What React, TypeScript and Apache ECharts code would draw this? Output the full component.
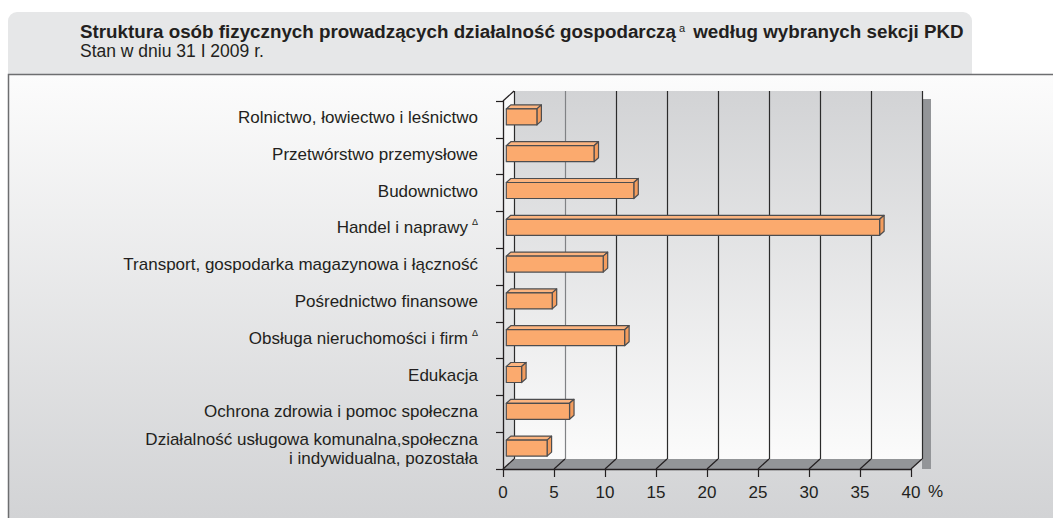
import React, { useEffect, useRef } from "react";
import * as echarts from "echarts";

const categories = [
  "Rolnictwo, łowiectwo i leśnictwo",
  "Przetwórstwo przemysłowe",
  "Budownictwo",
  "Handel i naprawy{sup|Δ}",
  "Transport, gospodarka magazynowa i łączność",
  "Pośrednictwo finansowe",
  "Obsługa nieruchomości i firm{sup|Δ}",
  "Edukacja",
  "Ochrona zdrowia i pomoc społeczna",
  "Działalność usługowa komunalna,społeczna\ni indywidualna, pozostała",
];
const values = [3.0, 8.6, 12.5, 36.6, 9.5, 4.5, 11.6, 1.5, 6.2, 4.0];
const xTicks = [0, 5, 10, 15, 20, 25, 30, 35, 40];

const FONT = "'Liberation Sans', Arial, sans-serif";
const TXT = "#231f20";

export default function App() {
  const ref = useRef<HTMLDivElement>(null);
  useEffect(() => {
    if (!ref.current) return;
    const chart = echarts.init(ref.current, undefined, { renderer: "svg" });
    const DX = 11;
    const DY = -10;
    const option: any = {
      animation: false,
      backgroundColor: "#ffffff",
      textStyle: { fontFamily: FONT },
      graphic: [
        {
          type: "rect",
          z: -10,
          shape: { x: 8, y: 12, width: 964, height: 64, r: [9, 9, 0, 0] },
          style: { fill: "#e6e7e8" },
        },
        {
          type: "rect",
          z: -9,
          shape: { x: 8, y: 74, width: 1045, height: 444 },
          style: {
            fill: new echarts.graphic.LinearGradient(0, 0, 0, 1, [
              { offset: 0, color: "#fcfcfc" },
              { offset: 1, color: "#d2d3d5" },
            ]),
          },
        },
        {
          type: "polyline",
          z: -8,
          shape: { points: [[8.5, 518], [8.5, 74.5], [1053, 74.5]] },
          style: { stroke: "#6d6e70", lineWidth: 1.5, fill: null },
        },
        {
          type: "rect",
          z: -7,
          shape: { x: 922, y: 99, width: 9, height: 370 },
          style: { fill: "#939598" },
        },
        {
          type: "text",
          left: 80,
          top: 22,
          z: 5,
          style: {
            text: "Struktura osób fizycznych prowadzących działalność gospodarczą{sup|a} według wybranych sekcji PKD",
            font: `bold 18.8px ${FONT}`,
            lineHeight: 19,
            fill: TXT,
            rich: {
              sup: { fontSize: 11, lineHeight: 11, fontWeight: "normal", verticalAlign: "top", padding: [0, 3, 0, 3], fill: TXT },
            },
          },
        },
        {
          type: "text",
          left: 80,
          top: 42,
          z: 5,
          style: { text: "Stan w dniu 31 I 2009 r.", font: `17.5px ${FONT}`, lineHeight: 18, fill: TXT },
        },
        {
          type: "text",
          left: 928,
          top: 483,
          z: 5,
          style: { text: "%", font: `17px ${FONT}`, fill: TXT },
        },
      ],
      grid: [
        { left: 503, top: 101, width: 408, height: 368, show: false },
        {
          left: 514,
          top: 91,
          width: 408,
          height: 368,
          show: true,
          borderWidth: 0,
          z: -5,
          backgroundColor: new echarts.graphic.LinearGradient(0, 0, 0, 1, [
            { offset: 0, color: "#d2d3d5" },
            { offset: 1, color: "#fbfbfb" },
          ]),
        },
      ],
      xAxis: [
        {
          gridIndex: 0,
          type: "value",
          min: 0,
          max: 40,
          interval: 5,
          z: 10,
          axisLine: { show: true, lineStyle: { color: "#231f20", width: 1.3 } },
          axisTick: { show: true, length: 8, lineStyle: { color: "#231f20", width: 1.2 } },
          axisLabel: { color: TXT, fontSize: 17, fontFamily: FONT, margin: 15 },
          splitLine: { show: false },
        },
        {
          gridIndex: 1,
          type: "value",
          min: 0,
          max: 40,
          interval: 5,
          axisLine: { show: false },
          axisTick: { show: false },
          axisLabel: { show: false },
          splitLine: {
            show: true,
            lineStyle: {
              width: 1.2,
              color: ["#2b2b2b", "#808285", "#2b2b2b", "#2b2b2b", "#2b2b2b", "#2b2b2b", "#2b2b2b", "#2b2b2b", "#2b2b2b"],
            },
          },
        },
      ],
      yAxis: [
        {
          gridIndex: 0,
          type: "category",
          data: categories,
          inverse: true,
          z: 10,
          axisLine: { show: true, lineStyle: { color: "#231f20", width: 1.3 } },
          axisTick: { show: true, length: 7, lineStyle: { color: "#231f20", width: 1.2 } },
          axisLabel: {
            color: TXT,
            fontSize: 17,
            fontFamily: FONT,
            margin: 25,
            lineHeight: 19,
            align: "right",
            padding: [0, 0, 4, 0],
            rich: {
              sup: { fontSize: 9, padding: [0, 0, 11, 4], color: TXT },
            },
          },
          splitLine: { show: false },
        },
        {
          gridIndex: 1,
          type: "value",
          min: 0,
          max: 1,
          show: false,
          splitLine: { show: false },
        },
      ],
      series: [
        {
          type: "custom",
          xAxisIndex: 0,
          yAxisIndex: 0,
          z: 1,
          clip: false,
          silent: true,
          data: [[0, 0]],
          renderItem: (params: any, api: any) => {
            const cs = params.coordSys;
            const bottom = cs.y + cs.height;
            const xa = api.coord([0, 0])[0];
            const xb = api.coord([40, 0])[0];
            return {
              type: "group",
              children: [
                {
                  type: "polygon",
                  shape: { points: [[xa, bottom], [xb, bottom], [xb + DX, bottom + DY], [xa + DX, bottom + DY]] },
                  style: { fill: "#939598", stroke: null },
                },
                {
                  type: "line",
                  shape: { x1: xa, y1: cs.y, x2: xa + DX, y2: cs.y + DY },
                  style: { stroke: "#231f20", lineWidth: 1.2 },
                },
              ],
            };
          },
        },
        {
          type: "custom",
          xAxisIndex: 0,
          yAxisIndex: 0,
          z: 2,
          clip: false,
          silent: true,
          data: xTicks.map((t) => [t, 0]),
          encode: { x: 0 },
          renderItem: (params: any, api: any) => {
            const cs = params.coordSys;
            const bottom = cs.y + cs.height;
            const x = api.coord([api.value(0), 0])[0];
            return {
              type: "line",
              shape: { x1: x, y1: bottom, x2: x + DX, y2: bottom + DY },
              style: { stroke: "#231f20", lineWidth: 1.2 },
            };
          },
        },
        {
          type: "custom",
          xAxisIndex: 0,
          yAxisIndex: 0,
          z: 20,
          clip: false,
          data: values.map((v, i) => [v, i]),
          encode: { x: 0, y: 1 },
          renderItem: (params: any, api: any) => {
            const v = api.value(0);
            const i = api.value(1);
            const p0 = api.coord([0, i]);
            const p1 = api.coord([v, i]);
            const ox = 3.3;
            const oy = -2.5;
            const h = 16;
            const d = 4.5;
            const dz = -4;
            const x0 = p0[0] + ox;
            const x1 = p1[0] + ox;
            const yt = p0[1] + oy - h / 2;
            const yb = yt + h;
            const stroke = { stroke: "#4d4d4f", lineWidth: 1.2, lineJoin: "round" };
            return {
              type: "group",
              children: [
                {
                  type: "polygon",
                  shape: { points: [[x0, yt], [x0 + d, yt + dz], [x1 + d, yt + dz], [x1, yt]] },
                  style: { fill: "#fcb47f", ...stroke },
                },
                {
                  type: "polygon",
                  shape: { points: [[x1, yt], [x1 + d, yt + dz], [x1 + d, yb + dz], [x1, yb]] },
                  style: { fill: "#f49d5e", ...stroke },
                },
                {
                  type: "rect",
                  shape: { x: x0, y: yt, width: x1 - x0, height: h },
                  style: { fill: "#fbaa6e", ...stroke },
                },
              ],
            };
          },
        },
      ],
    };
    chart.setOption(option);
    return () => chart.dispose();
  }, []);
  return (
    <div
      ref={ref}
      style={{ position: "absolute", left: 0, top: 0, width: 1053, height: 518 }}
    />
  );
}
